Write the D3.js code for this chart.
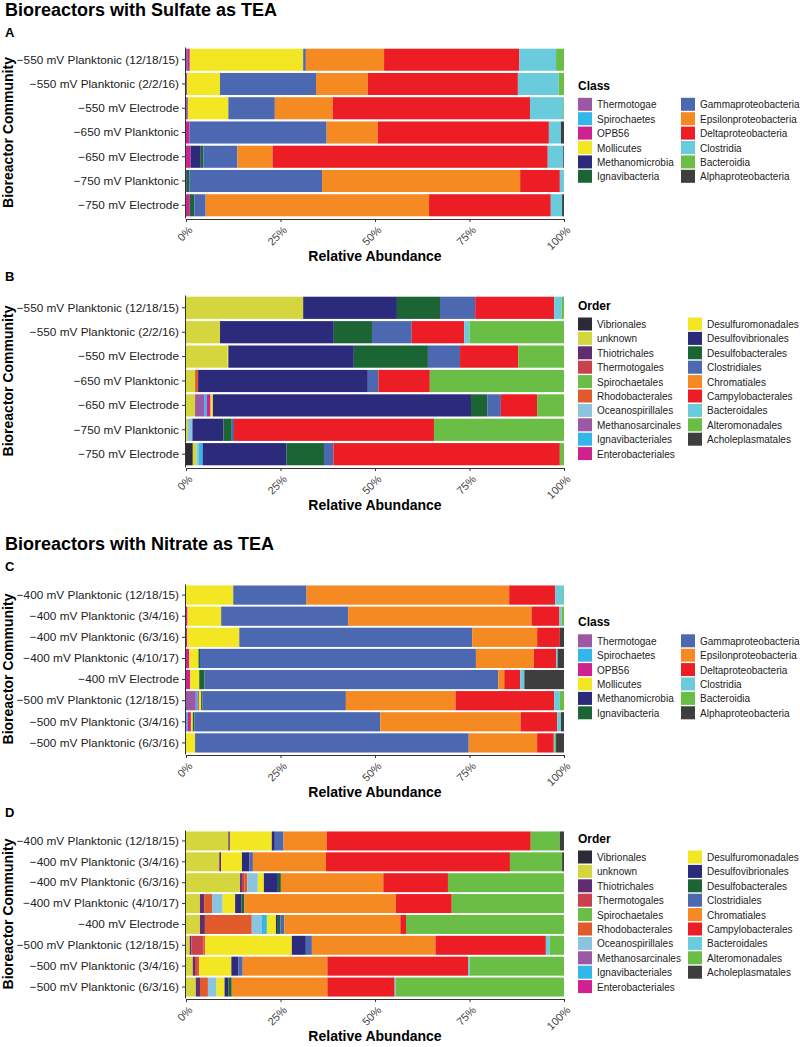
<!DOCTYPE html>
<html>
<head>
<meta charset="utf-8">
<script src="https://d3js.org/d3.v7.min.js"></script>
<style>
  body { margin: 0; background: #fff; }
  svg text { font-family: "Liberation Sans", Arial, sans-serif; }
</style>
</head>
<body>
<script>
// ---- taxa and colours ----
var classNames = ["Thermotogae", "Spirochaetes", "OPB56", "Mollicutes", "Methanomicrobia", "Ignavibacteria",
  "Gammaproteobacteria", "Epsilonproteobacteria", "Deltaproteobacteria", "Clostridia", "Bacteroidia", "Alphaproteobacteria"];
var classColors = ["#9A58A5", "#35B6E8", "#CF2190", "#F2E722", "#2C2A7A", "#1B6535",
  "#4B68B0", "#F48A21", "#EC1D25", "#6ACBDD", "#6ABD45", "#3E3E3E"];

var orderNames = ["Vibrionales", "unknown", "Thiotrichales", "Thermotogales", "Spirochaetales", "Rhodobacterales",
  "Oceanospirillales", "Methanosarcinales", "Ignavibacteriales", "Enterobacteriales",
  "Desulfuromonadales", "Desulfovibrionales", "Desulfobacterales", "Clostridiales", "Chromatiales",
  "Campylobacterales", "Bacteroidales", "Alteromonadales", "Acholeplasmatales"];
var orderColors = ["#2B2A36", "#D5D53D", "#5F2D70", "#C8414C", "#6ABD45", "#E05A2B",
  "#8BC4DE", "#9A58A5", "#35B6E8", "#CF2190",
  "#F2E722", "#2C2A7A", "#1B6535", "#4B68B0", "#F48A21",
  "#EC1D25", "#6ACBDD", "#6ABD45", "#3E3E3E"];

// ---- communities ----
var sulfateCommunities = ["\u2212550 mV Planktonic (12/18/15)", "\u2212550 mV Planktonic (2/2/16)", "\u2212550 mV Electrode",
  "\u2212650 mV Planktonic", "\u2212650 mV Electrode", "\u2212750 mV Planktonic", "\u2212750 mV Electrode"];
var nitrateCommunities = ["\u2212400 mV Planktonic (12/18/15)", "\u2212400 mV Planktonic (3/4/16)", "\u2212400 mV Planktonic (6/3/16)",
  "\u2212400 mV Planktonic (4/10/17)", "\u2212400 mV Electrode", "\u2212500 mV Planktonic (12/18/15)",
  "\u2212500 mV Planktonic (3/4/16)", "\u2212500 mV Planktonic (6/3/16)"];

var tickValues = [0, 25, 50, 75, 100];

// ---- relative abundance (%), one object per community ----
var sulfateClass = [
  {Thermotogae: 0.5, OPB56: 0.5, Mollicutes: 30.0, Gammaproteobacteria: 0.7, Epsilonproteobacteria: 20.7, Deltaproteobacteria: 35.8, Clostridia: 9.7, Bacteroidia: 2.1},
  {Thermotogae: 0.3, Mollicutes: 8.7, Gammaproteobacteria: 25.4, Epsilonproteobacteria: 13.7, Deltaproteobacteria: 39.7, Clostridia: 10.8, Bacteroidia: 1.4},
  {Thermotogae: 0.5, Mollicutes: 10.7, Gammaproteobacteria: 12.3, Epsilonproteobacteria: 15.3, Deltaproteobacteria: 52.2, Clostridia: 8.8, Bacteroidia: 0.2},
  {OPB56: 0.9, Gammaproteobacteria: 36.3, Epsilonproteobacteria: 13.5, Deltaproteobacteria: 45.3, Clostridia: 3.2, Alphaproteobacteria: 0.8},
  {OPB56: 1.2, Methanomicrobia: 2.7, Ignavibacteria: 0.7, Gammaproteobacteria: 9.0, Epsilonproteobacteria: 9.3, Deltaproteobacteria: 72.8, Clostridia: 4.1, Alphaproteobacteria: 0.2},
  {Methanomicrobia: 0.2, Ignavibacteria: 0.7, Gammaproteobacteria: 35.1, Epsilonproteobacteria: 52.4, Deltaproteobacteria: 10.5, Clostridia: 1.1},
  {OPB56: 1.0, Ignavibacteria: 1.2, Gammaproteobacteria: 3.0, Epsilonproteobacteria: 59.1, Deltaproteobacteria: 32.2, Clostridia: 3.0, Alphaproteobacteria: 0.5}
];

var sulfateOrder = [
  {unknown: 31.0, Desulfovibrionales: 24.8, Desulfobacterales: 11.4, Clostridiales: 9.3, Campylobacterales: 20.9, Bacteroidales: 2.0, Alteromonadales: 0.6},
  {unknown: 9.0, Desulfovibrionales: 30.1, Desulfobacterales: 10.1, Clostridiales: 10.5, Campylobacterales: 13.9, Bacteroidales: 1.4, Alteromonadales: 25.0},
  {unknown: 11.0, Desulfuromonadales: 0.2, Desulfovibrionales: 33.2, Desulfobacterales: 19.6, Clostridiales: 8.5, Campylobacterales: 15.4, Alteromonadales: 12.1},
  {unknown: 2.4, Rhodobacterales: 0.8, Desulfovibrionales: 44.9, Clostridiales: 2.8, Campylobacterales: 13.6, Alteromonadales: 35.5},
  {unknown: 2.4, Methanosarcinales: 2.4, Ignavibacteriales: 0.7, Enterobacteriales: 1.0, Desulfuromonadales: 0.6, Desulfovibrionales: 68.3, Desulfobacterales: 4.3, Clostridiales: 3.6, Campylobacterales: 9.6, Alteromonadales: 7.1},
  {unknown: 0.5, Oceanospirillales: 1.2, Desulfovibrionales: 8.2, Desulfobacterales: 2.2, Clostridiales: 0.6, Campylobacterales: 52.9, Alteromonadales: 34.4},
  {Vibrionales: 1.8, unknown: 1.0, Oceanospirillales: 0.6, Ignavibacteriales: 1.0, Desulfovibrionales: 22.2, Desulfobacterales: 9.9, Clostridiales: 2.5, Campylobacterales: 59.9, Alteromonadales: 1.1}
];

var nitrateClass = [
  {Mollicutes: 12.5, Gammaproteobacteria: 19.4, Epsilonproteobacteria: 53.6, Deltaproteobacteria: 12.2, Clostridia: 2.1, Bacteroidia: 0.2},
  {OPB56: 0.4, Mollicutes: 8.9, Gammaproteobacteria: 33.6, Epsilonproteobacteria: 48.5, Deltaproteobacteria: 7.4, Clostridia: 0.6, Bacteroidia: 0.6},
  {OPB56: 0.3, Mollicutes: 13.8, Gammaproteobacteria: 61.6, Epsilonproteobacteria: 17.2, Deltaproteobacteria: 6.0, Alphaproteobacteria: 1.1},
  {OPB56: 0.8, Mollicutes: 2.5, Ignavibacteria: 0.4, Gammaproteobacteria: 73.0, Epsilonproteobacteria: 15.3, Deltaproteobacteria: 5.9, Clostridia: 0.4, Alphaproteobacteria: 1.7},
  {OPB56: 1.1, Mollicutes: 2.4, Ignavibacteria: 1.4, Gammaproteobacteria: 77.7, Epsilonproteobacteria: 1.6, Deltaproteobacteria: 4.2, Clostridia: 1.1, Alphaproteobacteria: 10.5},
  {Thermotogae: 2.6, Spirochaetes: 0.5, OPB56: 0.3, Mollicutes: 0.6, Ignavibacteria: 0.3, Gammaproteobacteria: 38.0, Epsilonproteobacteria: 29.0, Deltaproteobacteria: 26.1, Clostridia: 1.5, Bacteroidia: 1.1},
  {Spirochaetes: 0.4, OPB56: 0.9, Mollicutes: 0.5, Ignavibacteria: 0.4, Gammaproteobacteria: 49.2, Epsilonproteobacteria: 37.1, Deltaproteobacteria: 9.7, Clostridia: 1.0, Alphaproteobacteria: 0.8},
  {Mollicutes: 2.4, Gammaproteobacteria: 72.4, Epsilonproteobacteria: 18.1, Deltaproteobacteria: 4.4, Clostridia: 0.3, Bacteroidia: 0.3, Alphaproteobacteria: 2.1}
];

var nitrateOrder = [
  {unknown: 11.2, Thiotrichales: 0.4, Desulfuromonadales: 11.1, Desulfovibrionales: 0.8, Clostridiales: 2.3, Chromatiales: 11.4, Campylobacterales: 54.0, Alteromonadales: 7.7, Acholeplasmatales: 1.1},
  {unknown: 8.8, Thiotrichales: 0.5, Desulfuromonadales: 5.5, Desulfovibrionales: 2.0, Clostridiales: 0.9, Chromatiales: 19.3, Campylobacterales: 48.7, Alteromonadales: 13.8, Acholeplasmatales: 0.5},
  {unknown: 14.3, Thiotrichales: 0.5, Thermotogales: 0.6, Rhodobacterales: 0.8, Oceanospirillales: 2.8, Desulfuromonadales: 1.6, Desulfovibrionales: 3.7, Desulfobacterales: 0.8, Chromatiales: 27.1, Campylobacterales: 17.1, Alteromonadales: 30.7},
  {unknown: 3.7, Thiotrichales: 1.1, Rhodobacterales: 2.1, Oceanospirillales: 2.8, Desulfuromonadales: 3.3, Desulfovibrionales: 1.7, Desulfobacterales: 0.7, Chromatiales: 40.1, Campylobacterales: 14.8, Alteromonadales: 29.7},
  {unknown: 3.7, Thiotrichales: 1.3, Rhodobacterales: 12.4, Oceanospirillales: 2.7, Ignavibacteriales: 1.3, Desulfuromonadales: 2.4, Desulfovibrionales: 0.5, Desulfobacterales: 0.7, Clostridiales: 1.0, Chromatiales: 30.7, Campylobacterales: 1.5, Alteromonadales: 41.8},
  {unknown: 1.0, Thiotrichales: 0.4, Thermotogales: 3.2, Rhodobacterales: 0.5, Desulfuromonadales: 22.9, Desulfovibrionales: 3.7, Clostridiales: 1.6, Chromatiales: 32.7, Campylobacterales: 29.2, Bacteroidales: 1.0, Alteromonadales: 3.8},
  {unknown: 1.8, Thiotrichales: 0.6, Thermotogales: 0.5, Rhodobacterales: 0.6, Desulfuromonadales: 8.5, Desulfovibrionales: 1.9, Clostridiales: 1.1, Chromatiales: 22.4, Campylobacterales: 37.2, Bacteroidales: 0.4, Alteromonadales: 25.0},
  {unknown: 2.6, Thiotrichales: 1.1, Rhodobacterales: 2.1, Oceanospirillales: 2.3, Desulfuromonadales: 2.1, Desulfovibrionales: 1.0, Desulfobacterales: 0.9, Chromatiales: 25.3, Campylobacterales: 17.8, Bacteroidales: 0.3, Alteromonadales: 44.5}
];

// ---- page ----
var svg = d3.select("body").append("svg")
  .attr("width", 800).attr("height", 1047);

var plotLeft = 186, plotRight = 564;
var x = d3.scaleLinear().domain([0, 100]).range([plotLeft, plotRight]);

svg.append("text").attr("x", 5).attr("y", 16)
  .style("font-size", "18px").style("font-weight", "bold")
  .text("Bioreactors with Sulfate as TEA");
svg.append("text").attr("x", 5).attr("y", 550)
  .style("font-size", "18px").style("font-weight", "bold")
  .text("Bioreactors with Nitrate as TEA");

function drawPanel(letter, letterY, top, bottom, rows, values, keys, colors, legendTitle, legendCol2X) {
  var color = d3.scaleOrdinal().domain(keys).range(colors);
  var y = d3.scaleBand().domain(rows).range([top, bottom]).paddingInner(0.09).paddingOuter(0.07);

  svg.append("text").attr("x", 5).attr("y", letterY)
    .style("font-size", "13px").style("font-weight", "bold").text(letter);

  var table = values.map(function (v, i) {
    var d = { community: rows[i] };
    keys.forEach(function (k) { d[k] = v[k] || 0; });
    return d;
  });
  var series = d3.stack().keys(keys)(table);

  var g = svg.append("g");
  g.selectAll("g.layer")
    .data(series)
    .join("g")
      .attr("class", "layer")
      .attr("fill", function (s) { return color(s.key); })
    .selectAll("rect")
    .data(function (s) { return s.filter(function (d) { return d[1] - d[0] > 0; }); })
    .join("rect")
      .attr("x", function (d) { return x(d[0]); })
      .attr("width", function (d) { return x(d[1]) - x(d[0]); })
      .attr("y", function (d) { return y(d.data.community); })
      .attr("height", y.bandwidth());

  // y axis
  var ya = svg.append("g").attr("transform", "translate(" + (plotLeft - 1) + ",0)")
    .call(d3.axisLeft(y).tickSize(3).tickSizeOuter(0).tickPadding(3));
  ya.selectAll("text").style("font-size", "11.8px").style("fill", "#222");
  ya.selectAll("line,path").style("stroke", "#333");

  // x axis
  var xa = svg.append("g").attr("transform", "translate(0," + (bottom + 1) + ")")
    .call(d3.axisBottom(x).tickValues(tickValues).tickSize(3).tickSizeOuter(0)
      .tickFormat(function (d) { return d + "%"; }));
  xa.selectAll("line,path").style("stroke", "#333");
  xa.selectAll("text")
    .attr("y", 0).attr("dy", "0.35em")
    .attr("transform", "translate(4,9) rotate(-45)")
    .style("text-anchor", "end")
    .style("font-size", "11px").style("fill", "#444");

  svg.append("text")
    .attr("x", (plotLeft + plotRight) / 2).attr("y", bottom + 43)
    .attr("text-anchor", "middle")
    .style("font-size", "14px").style("font-weight", "bold")
    .text("Relative Abundance");

  svg.append("text")
    .attr("transform", "translate(13," + ((top + bottom) / 2) + ") rotate(-90)")
    .attr("text-anchor", "middle")
    .style("font-size", "14px").style("font-weight", "bold")
    .text("Bioreactor Community");

  // legend, two columns filled top to bottom
  var perCol = Math.ceil(keys.length / 2);
  var step = 14.4;
  var legTop = (top + bottom) / 2 - ((perCol * step) + 17) / 2;
  var leg = svg.append("g");
  leg.append("text").attr("x", 578).attr("y", legTop + 9)
    .style("font-size", "12px").style("font-weight", "bold").text(legendTitle);
  var item = leg.selectAll("g.item")
    .data(keys)
    .join("g")
      .attr("class", "item")
      .attr("transform", function (k, i) {
        var col = Math.floor(i / perCol), row = i % perCol;
        return "translate(" + (col === 0 ? 578 : legendCol2X) + "," + (legTop + 17 + row * step) + ")";
      });
  item.append("rect").attr("width", 14).attr("height", 13)
    .attr("fill", function (k) { return color(k); });
  item.append("text").attr("x", 19).attr("y", 7).attr("dy", "0.35em")
    .style("font-size", "10px").style("fill", "#222")
    .text(function (k) { return k; });
}

drawPanel("A", 37, 47, 218, sulfateCommunities, sulfateClass, classNames, classColors, "Class", 681);
drawPanel("B", 281, 295, 467, sulfateCommunities, sulfateOrder, orderNames, orderColors, "Order", 688);
drawPanel("C", 571, 584, 754, nitrateCommunities, nitrateClass, classNames, classColors, "Class", 681);
drawPanel("D", 817, 830, 998, nitrateCommunities, nitrateOrder, orderNames, orderColors, "Order", 688);
</script>
</body>
</html>
